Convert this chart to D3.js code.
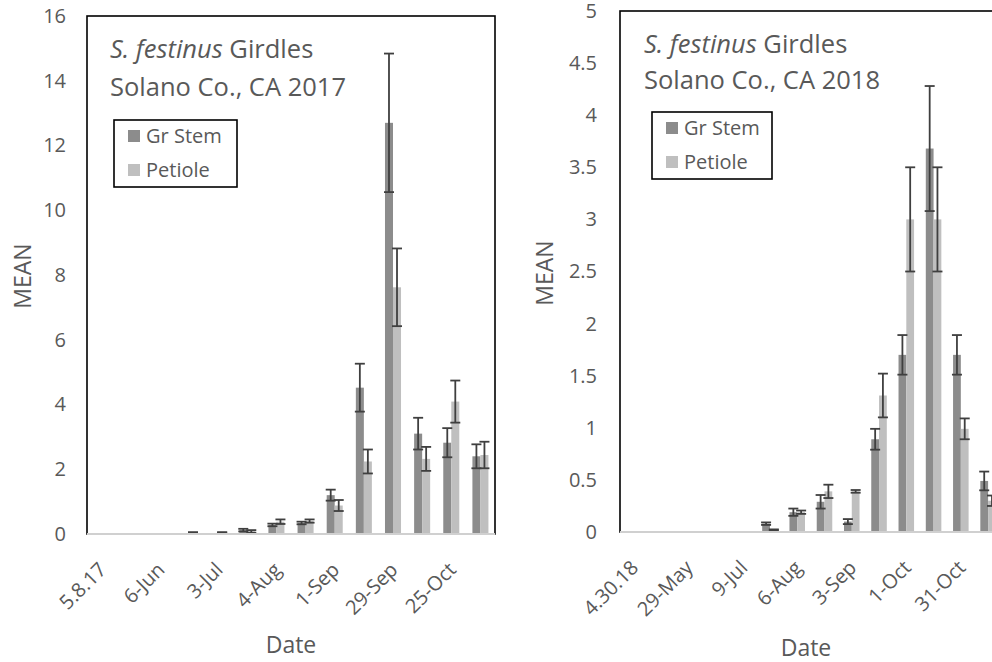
<!DOCTYPE html>
<html>
<head>
<meta charset="utf-8">
<script src="https://cdn.jsdelivr.net/npm/d3@7"></script>
<style>
  html, body { margin: 0; padding: 0; background: #fff; }
  svg { display: block; }
  text { font-family: "Open Sans", "Noto Sans", sans-serif; fill: #595959; }
</style>
</head>
<body>
<svg id="chart" width="992" height="662"></svg>
<script>
// ---------------- DATA ----------------
const series = ["Gr Stem", "Petiole"];

// 2017 panel (14 sampling dates, every other one labelled)
const labels2017 = ["5.8.17", "", "6-Jun", "", "3-Jul", "", "4-Aug", "", "1-Sep", "", "29-Sep", "", "25-Oct", ""];
const stem2017    = [0, 0, 0, 0, 0, 0.12, 0.28, 0.34, 1.2, 4.52, 12.7, 3.1, 2.82, 2.4];
const stemErr2017 = [0, 0, 0, 0, 0, 0.04, 0.04, 0.04, 0.17, 0.74, 2.14, 0.49, 0.45, 0.37];
const pet2017     = [0, 0, 0, 0.05, 0.05, 0.08, 0.38, 0.40, 0.88, 2.24, 7.62, 2.32, 4.09, 2.44];
const petErr2017  = [0, 0, 0, 0, 0, 0.04, 0.07, 0.05, 0.17, 0.37, 1.2, 0.37, 0.65, 0.41];
const yTicks2017  = [0, 2, 4, 6, 8, 10, 12, 14, 16];

// 2018 panel (chart continues past the right edge of the picture)
const labels2018 = ["4.30.18", "", "29-May", "", "9-Jul", "", "6-Aug", "", "3-Sep", "", "1-Oct", "", "31-Oct", "", ""];
const stem2018    = [0, 0, 0, 0, 0, 0.08, 0.19, 0.29, 0.10, 0.89, 1.70, 3.68, 1.70, 0.49, null];
const stemErr2018 = [0, 0, 0, 0, 0, 0.012, 0.035, 0.065, 0.024, 0.10, 0.19, 0.60, 0.19, 0.09, null];
const pet2018     = [0, 0, 0, 0, 0, 0.02, 0.19, 0.39, 0.39, 1.31, 3.00, 3.00, 0.99, 0.30, null];
const petErr2018  = [0, 0, 0, 0, 0, 0.005, 0.016, 0.064, 0.013, 0.21, 0.50, 0.50, 0.10, 0.05, null];
const yTicks2018  = [0, 0.5, 1, 1.5, 2, 2.5, 3, 3.5, 4, 4.5, 5];

// ---------------- STYLE ----------------
const colors = { "Gr Stem": "#8c8c8c", "Petiole": "#bfbfbf" };
const svg = d3.select("#chart");

function panel(cfg) {
  const n = cfg.labels.length;
  const g = svg.append("g");
  const x = d3.scaleBand().domain(d3.range(n)).range([cfg.left, cfg.right])
    .paddingInner(cfg.pad).paddingOuter(cfg.pad / 2);
  const xs = d3.scaleBand().domain(series).range([0, x.bandwidth()]);
  const y = d3.scaleLinear().domain([0, cfg.yMax]).range([cfg.bottom, cfg.top]);

  // plot area border
  g.append("rect").attr("x", cfg.left).attr("y", cfg.top)
    .attr("width", cfg.right - cfg.left).attr("height", cfg.bottom - cfg.top)
    .attr("fill", "none").attr("stroke", "#000").attr("stroke-width", 1.6);

  const rows = d3.range(n).map(i => ({
    i,
    vals: [
      { s: "Gr Stem", v: cfg.stem[i], e: cfg.stemErr[i] },
      { s: "Petiole", v: cfg.pet[i], e: cfg.petErr[i] }
    ]
  }));

  const grp = g.selectAll(".grp").data(rows).join("g")
    .attr("transform", d => `translate(${x(d.i)},0)`);

  grp.selectAll("rect").data(d => d.vals.filter(v => v.v != null)).join("rect")
    .attr("x", d => xs(d.s)).attr("width", xs.bandwidth())
    .attr("y", d => y(d.v)).attr("height", d => y(0) - y(d.v))
    .attr("fill", d => colors[d.s]);

  // x axis line (grey)
  g.append("line").attr("x1", cfg.left).attr("x2", cfg.right)
    .attr("y1", y(0)).attr("y2", y(0)).attr("stroke", "#d0d0d0").attr("stroke-width", 2);

  // error bars
  const eb = grp.selectAll(".eb").data(d => d.vals.filter(v => v.v != null && (v.v > 0))).join("g")
    .attr("class", "eb")
    .attr("stroke", "#3f3f3f").attr("stroke-width", 1.8);
  const cap = 5;
  eb.append("line")
    .attr("x1", d => xs(d.s) + xs.bandwidth() / 2).attr("x2", d => xs(d.s) + xs.bandwidth() / 2)
    .attr("y1", d => y(d.v + d.e)).attr("y2", d => y(d.v - d.e));
  eb.append("line")
    .attr("x1", d => xs(d.s) + xs.bandwidth() / 2 - cap).attr("x2", d => xs(d.s) + xs.bandwidth() / 2 + cap)
    .attr("y1", d => y(d.v + d.e)).attr("y2", d => y(d.v + d.e));
  eb.append("line")
    .attr("x1", d => xs(d.s) + xs.bandwidth() / 2 - cap).attr("x2", d => xs(d.s) + xs.bandwidth() / 2 + cap)
    .attr("y1", d => y(d.v - d.e)).attr("y2", d => y(d.v - d.e));

  // y axis
  const ya = g.append("g").attr("transform", `translate(${cfg.left},0)`)
    .call(d3.axisLeft(y).tickValues(cfg.yTicks).tickSize(0).tickPadding(cfg.yPad)
      .tickFormat(d3.format("")));
  ya.select(".domain").remove();
  ya.selectAll("text").style("font-size", "20px").attr("fill", "#595959")
    .style("font-family", '"Open Sans", sans-serif');

  // x axis labels
  const xa = g.append("g").attr("transform", `translate(0,${cfg.bottom})`)
    .call(d3.axisBottom(x).tickSize(0).tickFormat(i => cfg.labels[i]));
  xa.select(".domain").remove();
  xa.selectAll("text").style("font-size", "20px").attr("fill", "#595959")
    .style("font-family", '"Open Sans", sans-serif')
    .attr("text-anchor", "end")
    .attr("dy", null).attr("y", 0)
    .attr("transform", `translate(${cfg.lblDx},${cfg.lblDy}) rotate(-45)`);

  // axis titles
  g.append("text").attr("x", cfg.dateX).attr("y", cfg.dateY).attr("text-anchor", "middle")
    .style("font-size", "23px").text("Date");
  g.append("text").attr("transform", `translate(${cfg.meanX},${cfg.meanY}) rotate(-90)`)
    .attr("text-anchor", "middle").style("font-size", "23px").text("MEAN");

  // chart title inside plot
  const t1 = g.append("text").attr("x", cfg.titleX).attr("y", cfg.titleY1).style("font-size", "25.5px");
  t1.append("tspan").style("font-style", "italic").text("S. festinus");
  t1.append("tspan").text(" Girdles");
  g.append("text").attr("x", cfg.titleX).attr("y", cfg.titleY2).style("font-size", "25.5px").text(cfg.subtitle);

  // legend
  const L = cfg.legend;
  g.append("rect").attr("x", L.x).attr("y", L.y).attr("width", L.w).attr("height", L.h)
    .attr("fill", "#fff").attr("stroke", "#000").attr("stroke-width", 1.6);
  series.forEach((s, k) => {
    g.append("rect").attr("x", L.x + 14).attr("y", L.y + 10 + k * 34).attr("width", 12).attr("height", 12)
      .attr("fill", colors[s]);
    g.append("text").attr("x", L.x + 32).attr("y", L.y + 23 + k * 34).style("font-size", "20px").text(s);
  });
}

panel({
  labels: labels2017, stem: stem2017, stemErr: stemErr2017, pet: pet2017, petErr: petErr2017,
  yTicks: yTicks2017, yMax: 16,
  left: 87, right: 495, top: 16, bottom: 534, pad: 0.45, yPad: 21,
  lblDx: 6, lblDy: 37,
  dateX: 291, dateY: 653, meanX: 31, meanY: 276,
  titleX: 110, titleY1: 58, titleY2: 96, subtitle: "Solano Co., CA 2017",
  legend: { x: 114, y: 120, w: 123, h: 67 }
});

panel({
  labels: labels2018, stem: stem2018, stemErr: stemErr2018, pet: pet2018, petErr: petErr2018,
  yTicks: yTicks2018, yMax: 5,
  left: 620, right: 1029, top: 11, bottom: 532, pad: 0.43, yPad: 23,
  lblDx: 6, lblDy: 37,
  dateX: 806, dateY: 656, meanX: 553, meanY: 273,
  titleX: 644, titleY1: 53, titleY2: 89, subtitle: "Solano Co., CA 2018",
  legend: { x: 652, y: 112, w: 120, h: 67 }
});
</script>
</body>
</html>
